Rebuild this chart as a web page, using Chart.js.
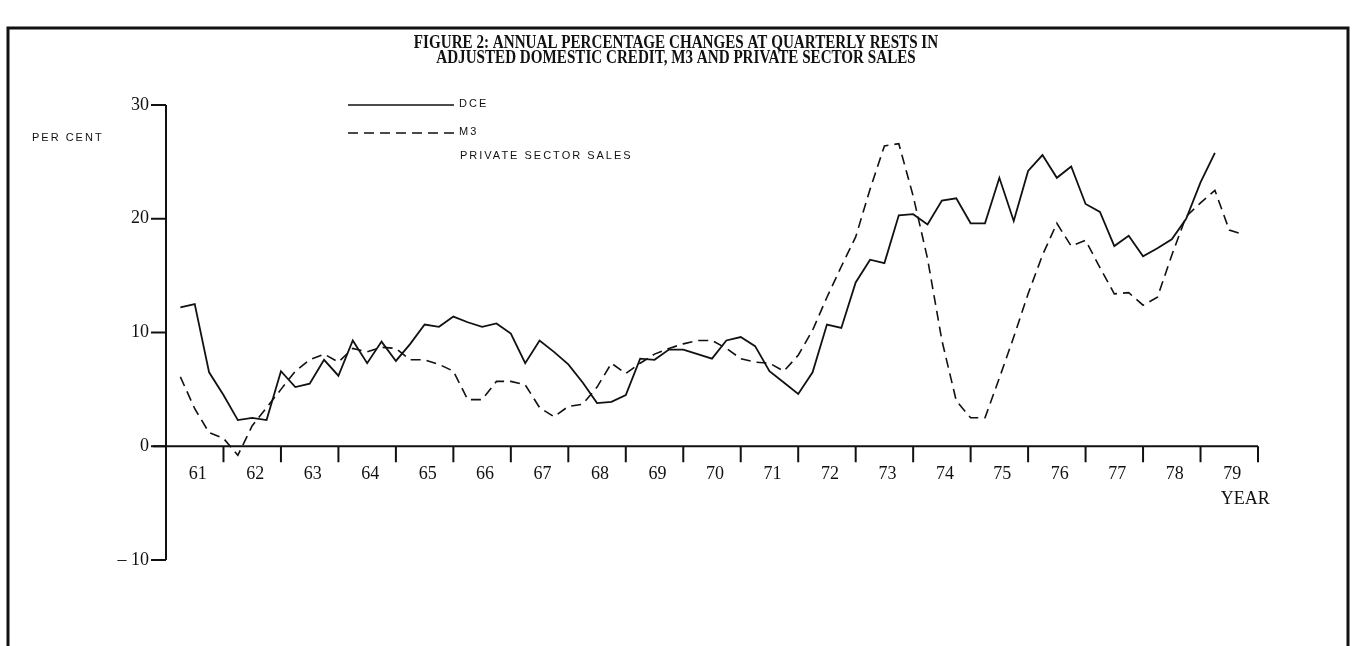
<!DOCTYPE html>
<html>
<head>
<meta charset="utf-8">
<script src="https://cdn.jsdelivr.net/npm/chart.js@4.4.1/dist/chart.umd.min.js"></script>
<style>
  html, body { margin: 0; padding: 0; background: #fff; }
  #wrap { width: 1353px; height: 646px; position: relative; }
</style>
</head>
<body>
<div id="wrap"><canvas id="chart"></canvas></div>
<script>
// quarterly series, first value = end of 1961 Q1
const startYear = 1961;
const yearLabels = ['61', '62', '63', '64', '65', '66', '67', '68', '69', '70',
  '71', '72', '73', '74', '75', '76', '77', '78', '79'];
const yTicks = [30, 20, 10, 0, -10];
const titleLines = [
  'FIGURE 2: ANNUAL PERCENTAGE CHANGES AT QUARTERLY RESTS IN',
  'ADJUSTED DOMESTIC CREDIT, M3 AND PRIVATE SECTOR SALES'
];
const seriesNames = ['DCE', 'M3', 'PRIVATE SECTOR SALES'];

const dce = [12.2, 12.5, 6.5, 4.5, 2.3, 2.5, 2.3, 6.6, 5.2, 5.5, 7.6, 6.2,
  9.3, 7.3, 9.2, 7.5, 9.0, 10.7, 10.5, 11.4, 10.9, 10.5, 10.8, 9.9,
  7.3, 9.3, 8.3, 7.2, 5.6, 3.8, 3.9, 4.5, 7.7, 7.6, 8.5, 8.5,
  8.1, 7.7, 9.3, 9.6, 8.8, 6.6, 5.6, 4.6, 6.5, 10.7, 10.4, 14.4,
  16.4, 16.1, 20.3, 20.4, 19.5, 21.6, 21.8, 19.6, 19.6, 23.6, 19.8, 24.2,
  25.6, 23.6, 24.6, 21.3, 20.6, 17.6, 18.5, 16.7, 17.4, 18.2, 20.0, 23.2,
  25.8];

const m3 = [6.1, 3.3, 1.2, 0.7, -0.8, 1.8, 3.4, 5.0, 6.6, 7.6, 8.1, 7.4,
  8.6, 8.3, 8.7, 8.6, 7.6, 7.6, 7.2, 6.6, 4.1, 4.1, 5.7, 5.7,
  5.4, 3.4, 2.6, 3.5, 3.7, 5.2, 7.3, 6.4, 7.3, 8.1, 8.6, 9.0,
  9.3, 9.3, 8.6, 7.7, 7.4, 7.3, 6.6, 8.0, 10.2, 13.1, 15.8, 18.4,
  22.6, 26.4, 26.6, 22.0, 16.5, 9.3, 4.0, 2.5, 2.5, 6.0, 9.6, 13.4,
  16.8, 19.6, 17.6, 18.1, 15.7, 13.4, 13.5, 12.4, 13.1, 16.8, 20.2, 21.4,
  22.5, 19.0, 18.6];

function toPoints(values) {
  return values.map((v, i) => ({ x: startYear + (i + 1) / 4, y: v }));
}

const serif = '"Liberation Serif", "DejaVu Serif", serif';
const sans = '"Liberation Sans", "DejaVu Sans", sans-serif';

const decor = {
  id: 'decor',
  afterDraw(chart) {
    const { ctx, chartArea, scales: { x, y } } = chart;
    const left = chartArea.left;
    ctx.save();
    ctx.fillStyle = '#111';
    ctx.strokeStyle = '#111';

    // frame round the figure
    ctx.lineWidth = 3;
    ctx.beginPath();
    ctx.moveTo(8, 660);
    ctx.lineTo(8, 28);
    ctx.lineTo(1348, 28);
    ctx.lineTo(1348, 660);
    ctx.stroke();

    // title, bold condensed
    ctx.font = 'bold 18px ' + serif;
    ctx.textAlign = 'center';
    ctx.textBaseline = 'middle';
    titleLines.forEach((line, i) => {
      ctx.save();
      ctx.translate(676, 43 + i * 15);
      ctx.scale(0.84, 1);
      ctx.fillText(line, 0, 0);
      ctx.restore();
    });

    // y axis
    ctx.lineWidth = 2;
    ctx.beginPath();
    ctx.moveTo(left, y.getPixelForValue(30));
    ctx.lineTo(left, y.getPixelForValue(-10));
    ctx.stroke();
    ctx.font = '18px ' + serif;
    ctx.textAlign = 'right';
    yTicks.forEach(v => {
      const py = y.getPixelForValue(v);
      ctx.beginPath();
      ctx.moveTo(left - 15, py);
      ctx.lineTo(left, py);
      ctx.stroke();
      ctx.fillText(v < 0 ? '\u2013 ' + Math.abs(v) : String(v), left - 17, py);
    });

    // x axis on the zero line
    const y0 = y.getPixelForValue(0);
    const xEnd = x.getPixelForValue(startYear + yearLabels.length);
    ctx.beginPath();
    ctx.moveTo(left - 13, y0);
    ctx.lineTo(xEnd, y0);
    ctx.stroke();
    for (let i = 1; i <= yearLabels.length; i++) {
      const px = x.getPixelForValue(startYear + i);
      ctx.beginPath();
      ctx.moveTo(px, y0);
      ctx.lineTo(px, y0 + 16);
      ctx.stroke();
    }
    ctx.font = '18px ' + serif;
    ctx.textAlign = 'center';
    yearLabels.forEach((lab, i) => {
      ctx.fillText(lab, x.getPixelForValue(startYear + i + 0.5) + 3, y0 + 28);
    });
    ctx.fillText('YEAR', x.getPixelForValue(startYear + 18.5) + 16, y0 + 53);

    // unit label
    ctx.font = '11px ' + sans;
    ctx.letterSpacing = '2px';
    ctx.textAlign = 'left';
    ctx.fillText('PER CENT', 32, 138);

    // legend
    ctx.lineWidth = 1.5;
    ctx.beginPath();
    ctx.moveTo(348, 105);
    ctx.lineTo(454, 105);
    ctx.stroke();
    ctx.setLineDash([10, 6]);
    ctx.beginPath();
    ctx.moveTo(348, 133);
    ctx.lineTo(454, 133);
    ctx.stroke();
    ctx.setLineDash([]);
    ctx.fillText(seriesNames[0], 459, 104);
    ctx.fillText(seriesNames[1], 459, 132);
    ctx.fillText(seriesNames[2], 460, 156);
    ctx.restore();
  }
};

new Chart(document.getElementById('chart'), {
  type: 'line',
  data: {
    datasets: [
      {
        label: seriesNames[0],
        data: toPoints(dce),
        borderColor: '#111',
        borderWidth: 1.8,
        pointRadius: 0,
        tension: 0
      },
      {
        label: seriesNames[1],
        data: toPoints(m3),
        borderColor: '#111',
        borderWidth: 1.6,
        borderDash: [10, 6],
        pointRadius: 0,
        tension: 0
      }
    ]
  },
  options: {
    responsive: true,
    maintainAspectRatio: false,
    animation: false,
    layout: { padding: { left: 166, right: 95, top: 105, bottom: 86 } },
    scales: {
      x: { type: 'linear', min: startYear, max: startYear + yearLabels.length, display: false },
      y: { min: -10, max: 30, display: false }
    },
    plugins: {
      legend: { display: false },
      tooltip: { enabled: false }
    }
  },
  plugins: [decor]
});
</script>
</body>
</html>
